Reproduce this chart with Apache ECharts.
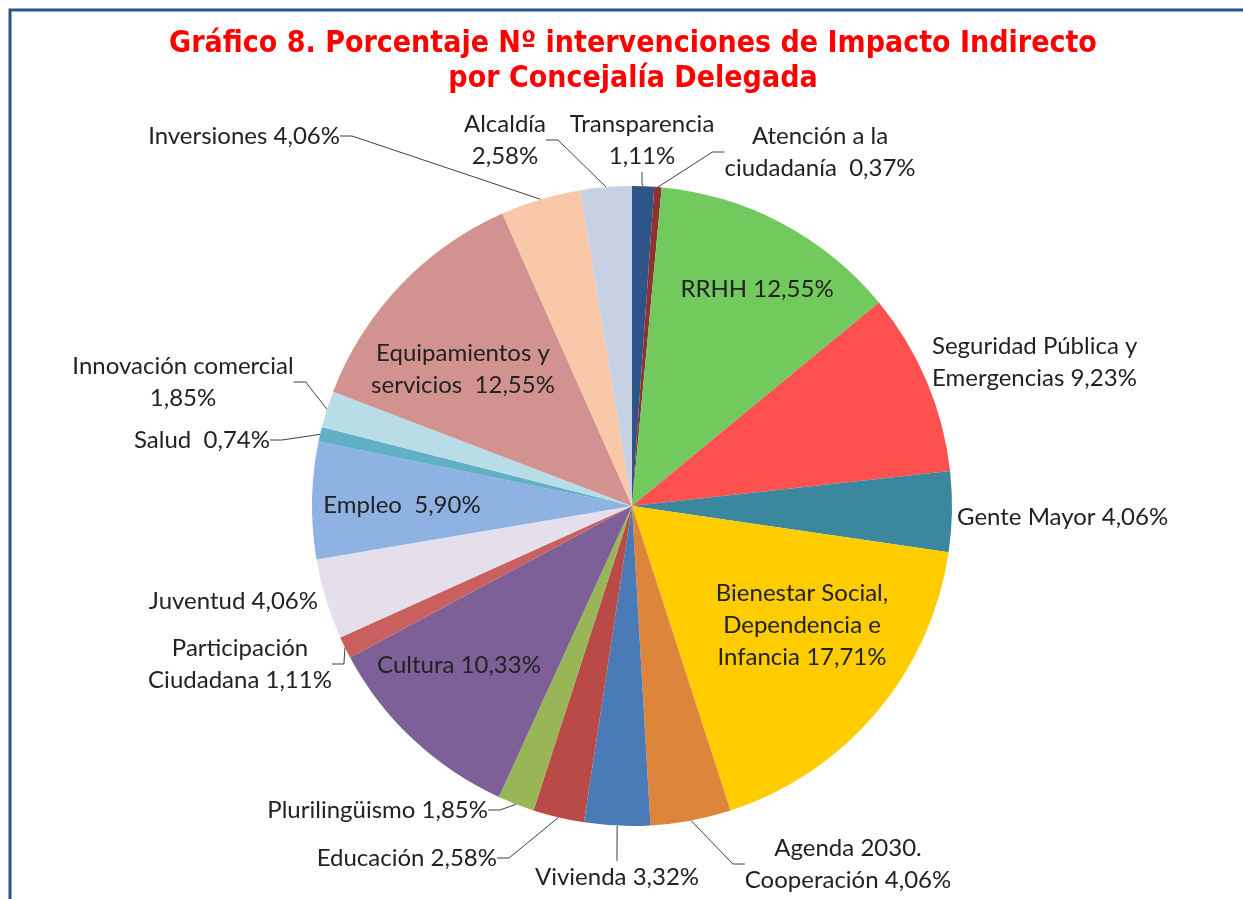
<!DOCTYPE html>
<html>
<head>
<meta charset="utf-8">
<script src="https://cdn.jsdelivr.net/npm/echarts@6/dist/echarts.min.js"></script>
<style>
  html, body { margin: 0; padding: 0; background: #fff; }
  #main { width: 1243px; height: 899px; }
</style>
</head>
<body>
<div id="main"></div>
<script>
// slices clockwise from 12 o'clock
const categories = [
  'Transparencia', 'Atención a la\nciudadanía', 'RRHH', 'Seguridad Pública y\nEmergencias',
  'Gente Mayor', 'Bienestar Social,\nDependencia e\nInfancia', 'Agenda 2030.\nCooperación',
  'Vivienda', 'Educación', 'Plurilingüismo', 'Cultura', 'Participación\nCiudadana',
  'Juventud', 'Empleo', 'Salud', 'Innovación comercial', 'Equipamientos y\nservicios',
  'Inversiones', 'Alcaldía'
];
const percentages = [
  1.11, 0.37, 12.55, 9.23, 4.06, 17.71, 4.06, 3.32, 2.58, 1.85,
  10.33, 1.11, 4.06, 5.90, 0.74, 1.85, 12.55, 4.06, 2.58
];
const separators = [
  '\n', '  ', ' ', ' ', ' ', ' ', ' ', ' ', ' ', ' ',
  ' ', ' ', ' ', '  ', '  ', '\n', '  ', ' ', '\n'
];
const colors = [
  '#2F5487', '#8E3232', '#72C95E', '#FF5050', '#3B879E', '#FFCC00', '#DE853C',
  '#4A7BB7', '#BA4A47', '#98B655', '#7D6098', '#C9605D', '#E5DFEC', '#8EB3E2',
  '#61B0C8', '#B8DDE6', '#D19290', '#F9C8A8', '#C8D0E3'
];
const insideLabels = [2, 5, 10, 13, 16];
const noLine = [2, 3, 4, 5, 10, 12, 13, 16];

// label anchor [x, y, align]
const labelPos = [
  [642, 140, 'center'], [820, 152, 'center'], [757, 289, 'center'], [932, 362, 'left'],
  [957, 517, 'left'], [802, 625, 'center'], [848, 864, 'center'], [617, 877, 'center'],
  [497, 858, 'right'], [488, 810, 'right'], [459, 665, 'center'], [240, 664, 'center'],
  [318, 601, 'right'], [402, 505, 'center'], [270, 440, 'right'], [183, 382, 'center'],
  [463, 369, 'center'], [340, 136, 'right'], [505, 140, 'center']
];

const fmt = v => v.toFixed(2).replace('.', ',') + '%';

const data = categories.map((name, i) => ({
  name: name,
  value: percentages[i],
  itemStyle: { color: colors[i] },
  label: {
    position: insideLabels.includes(i) ? 'inside' : 'outside',
    formatter: name + separators[i] + fmt(percentages[i])
  },
  labelLine: { show: !noLine.includes(i) }
}));

const chart = echarts.init(document.getElementById('main'));
chart.setOption({
  backgroundColor: '#fff',
  animation: false,
  title: {
    text: 'Gráfico 8. Porcentaje Nº intervenciones de Impacto Indirecto\npor Concejalía Delegada',
    left: 628,
    top: 22,
    textAlign: 'center',
    textStyle: {
      color: '#FF0000',
      fontSize: 30,
      fontWeight: 'bold',
      lineHeight: 35,
      fontFamily: "'Liberation Sans Narrow', 'Arial Narrow', 'DejaVu Sans Condensed', sans-serif"
    }
  },
  graphic: [{
    type: 'rect',
    shape: { x: 10, y: 10, width: 1300, height: 1000 },
    style: { fill: 'none', stroke: '#2C5189', lineWidth: 3 },
    silent: true
  }],
  series: [{
    type: 'pie',
    center: [632, 506],
    radius: 320,
    startAngle: 90,
    clockwise: true,
    avoidLabelOverlap: false,
    itemStyle: { borderWidth: 0 },
    label: {
      color: '#222',
      fontSize: 24,
      lineHeight: 32,
      fontFamily: 'Lato, sans-serif'
    },
    labelLine: {
      length: 10,
      length2: 12,
      lineStyle: { color: '#404040', width: 1 }
    },
    labelLayout: function (p) {
      const pos = labelPos[p.dataIndex];
      return { x: pos[0], y: pos[1], align: pos[2], verticalAlign: 'middle' };
    },
    data: data
  }]
});
</script>
</body>
</html>
